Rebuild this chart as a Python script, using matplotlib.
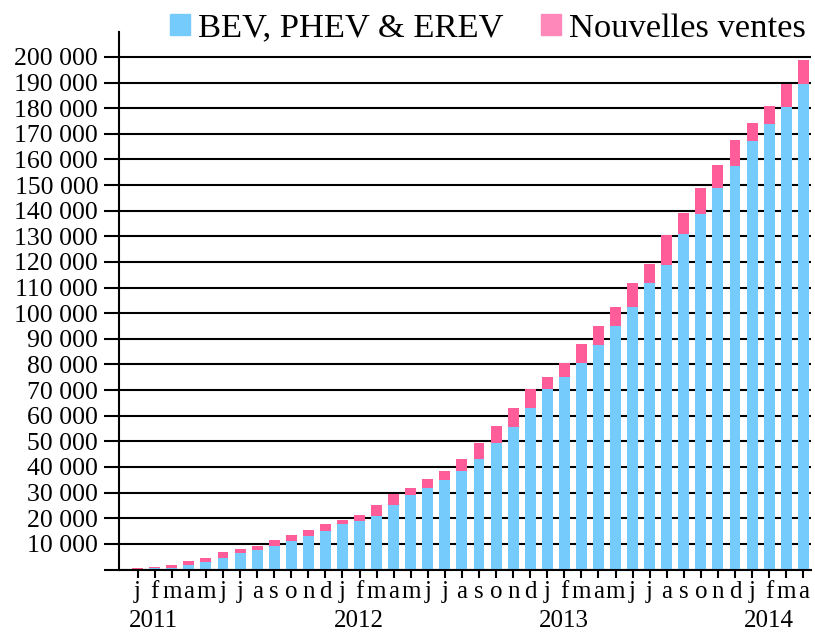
import matplotlib
matplotlib.use("Agg")
import matplotlib.pyplot as plt
from matplotlib.patches import Patch
from matplotlib.ticker import FuncFormatter, MultipleLocator

plt.rcParams["font.family"] = ["Liberation Serif", "DejaVu Serif"]

mois = list("jfmamjjasond") * 3 + list("jfma")
annees = ["2011", "2012", "2013", "2014"]

# parc existant (bleu) et ventes du mois (rose)
parc = [0, 400, 600, 1800, 2900, 4500, 6400, 7600, 9200, 11100, 13100, 15000,
        17800, 19000, 20900, 25200, 29100, 31900, 35100, 38500, 43100, 49200, 55700, 63100,
        70500, 75200, 80700, 87700, 95200, 102500, 111900, 119000, 130900, 138600, 148700, 157300,
        167100, 173700, 180300, 189400]
nouvelles = [500, 600, 1200, 1500, 1600, 2300, 1600, 1500, 2300, 2400, 2300, 2800,
             1700, 2300, 4200, 4400, 2700, 3400, 3500, 4600, 6400, 6800, 7300, 7400,
             4700, 5500, 7400, 7400, 7300, 9400, 7500, 11700, 8100, 10100, 9000, 10200,
             7000, 7000, 9000, 9300]

bleu = "#75CBFC"
rose = "#FF5C9A"

fig = plt.figure(figsize=(8.15, 6.33), dpi=100)
ax = fig.add_axes([0.146, 0.1003, 0.849, 0.849])

x = range(len(mois))
ax.bar(x, parc, width=0.64, color=bleu, zorder=2)
ax.bar(x, nouvelles, width=0.64, bottom=parc, color=rose, zorder=2)

ax.set_xlim(-1.095, 39.45)
ax.set_ylim(0, 209700)
ax.yaxis.set_major_locator(MultipleLocator(10000))
ax.yaxis.set_major_formatter(FuncFormatter(
    lambda v, p: "" if v <= 0 or v > 200000 else f"{v:,.0f}".replace(",", " ")))
ax.grid(axis="y", color="black", linewidth=1.5, zorder=1)
ax.set_axisbelow(True)

ax.set_xticks(list(x))
ax.set_xticklabels(mois)
ax.tick_params(axis="x", length=6, width=1.5, labelsize=18, pad=2)
ax.tick_params(axis="y", length=11, width=1.5, labelsize=18.5, pad=4)

for s in ["top", "right"]:
    ax.spines[s].set_visible(False)
for s in ["left", "bottom"]:
    ax.spines[s].set_linewidth(1.5)

for k, a in enumerate(annees):
    ax.text(k * 12 - 0.5, -0.096, a, transform=ax.get_xaxis_transform(),
            ha="left", va="center", fontsize=18)

handles = [Patch(color=bleu, label="BEV, PHEV & EREV"),
           Patch(color="#FF88BB", label="Nouvelles ventes")]
fig.legend(handles=handles, loc="upper right", bbox_to_anchor=(1.014, 1.012), ncol=2,
           frameon=False, fontsize=24.8, handlelength=0.58, handleheight=0.58,
           handletextpad=0.22, columnspacing=1.1, borderaxespad=0.2)

fig.savefig("out.png", dpi=100)
